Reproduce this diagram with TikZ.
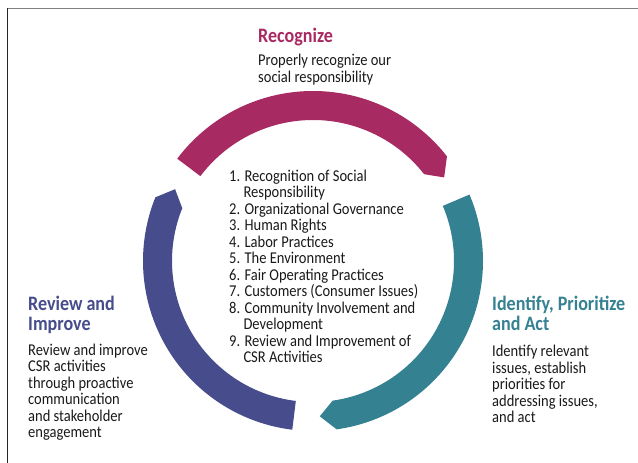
\documentclass[tikz,border=0pt]{standalone}
\usepackage{fontspec}
\setmainfont[FakeStretch=0.88]{Carlito}
\usepackage{xcolor}
\definecolor{recog}{HTML}{A82A62}
\definecolor{ident}{HTML}{348192}
\definecolor{review}{HTML}{464C8C}
\begin{document}
\begin{tikzpicture}[x=1pt, y=1pt,
  title/.style={anchor=base west, inner sep=0pt, align=left,
    font=\bfseries\fontsize{20.5}{20}\selectfont},
  body/.style={anchor=base west, inner sep=0pt, align=left,
    font=\fontsize{16.5}{16.5}\selectfont, text=black!90}]

\useasboundingbox (0,0) rectangle (638,463);

% frame
\draw [black!50, line width=1.5pt] (7,454.5) -- (638,454.5);
\draw [black!85, line width=1pt] (7.5,455) -- (7.5,0);

% the three arcs
\begin{scope}[shift={(313,202)}]
\fill [recog] (143:170) arc (143:38:170) -- (32.5:155.5) -- (38:141) arc (38:143:141) -- cycle;
\fill [ident] (23:170) arc (23:-82:170) -- (-87.5:155.5) -- (-82:141) arc (-82:23:141) -- cycle;
\fill [review] (263:170) arc (263:158:170) -- (152.5:155.5) -- (158:141) arc (158:263:141) -- cycle;
\end{scope}

% Recognize (base = last line)
\node [title, text=recog] (recogT) at (258,420) {Recognize};
\node [body] (recogB) at (258,380.5) {Properly recognize our\\social responsibility};

% list
\node [body] (items) at (229,100) {1. Recognition of Social\\
\hphantom{1.\ }Responsibility\\
2. Organizational Governance\\
3. Human Rights\\
4. Labor Practices\\
5. The Environment\\
6. Fair Operating Practices\\
7. Customers (Consumer Issues)\\
8. Community Involvement and\\
\hphantom{8.\ }Development\\
9. Review and Improvement of\\
\hphantom{9.\ }CSR Activities};

% Review and Improve
\node [title, text=review] (reviewT) at (28,132) {Review and\\Improve};
\node [body] (reviewB) at (28,25) {Review and improve\\CSR activities\\through proactive\\communication\\and stakeholder\\engagement};

% Identify, Prioritize and Act
\node [title, text=ident] (identT) at (492,132) {Identify, Prioritize\\and Act};
\node [body] (identB) at (492,40) {Identify relevant\\issues, establish\\priorities for\\addressing issues,\\and act};

\end{tikzpicture}
\end{document}
